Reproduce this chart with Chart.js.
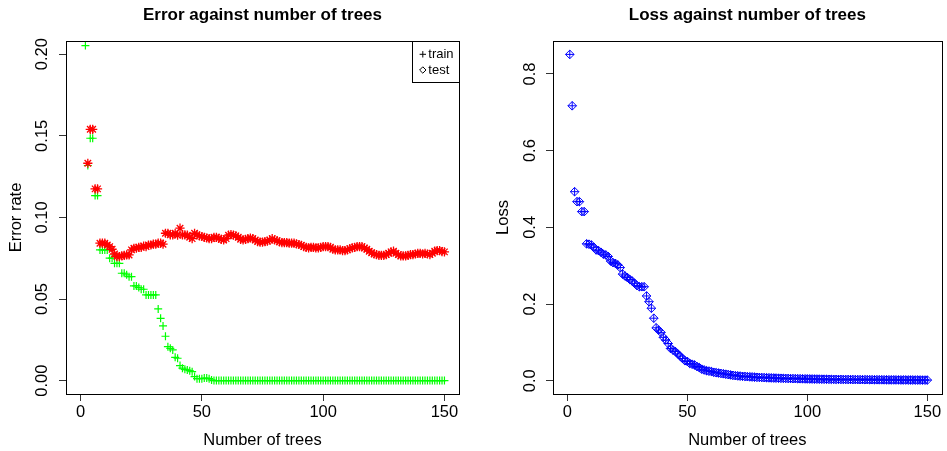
<!DOCTYPE html>
<html>
<head>
<meta charset="utf-8">
<script src="https://cdn.jsdelivr.net/npm/chart.js@4"></script>
<style>
  body { margin: 0; background: #fff; }
  #errorChart { position: absolute; left: 0; top: 0; }
  #lossChart { position: absolute; left: 470px; top: 0; }
</style>
</head>
<body>
<canvas id="errorChart" width="470" height="451"></canvas>
<canvas id="lossChart" width="477" height="451"></canvas>
<script>
// number of trees, 1..150
const trees = Array.from({ length: 150 }, (_, i) => i + 1);

// training error (tree 1 not shown)
const trainError = [
  null, 0.2053, 0.1318, 0.1485, 0.1485, 0.1134, 0.1134, 0.0801, 0.0801, 0.0801,
  0.0801, 0.0750, 0.0750, 0.0719, 0.0719, 0.0719, 0.0658, 0.0658, 0.0648, 0.0637,
  0.0637, 0.0580, 0.0580, 0.0570, 0.0560, 0.0560, 0.0525, 0.0525, 0.0525, 0.0525,
  0.0525, 0.0439, 0.0382, 0.0335, 0.0272, 0.0208, 0.0198, 0.0188, 0.0143, 0.0137,
  0.0092, 0.0076, 0.0069, 0.0065, 0.0061, 0.0055, 0.0025, 0.0012, 0.0012, 0.0012,
  0.0016, 0.0016, 0.0012, 0.0004, 0, 0, 0, 0, 0, 0,
  0, 0, 0, 0, 0, 0, 0, 0, 0, 0,
  0, 0, 0, 0, 0, 0, 0, 0, 0, 0,
  0, 0, 0, 0, 0, 0, 0, 0, 0, 0,
  0, 0, 0, 0, 0, 0, 0, 0, 0, 0,
  0, 0, 0, 0, 0, 0, 0, 0, 0, 0,
  0, 0, 0, 0, 0, 0, 0, 0, 0, 0,
  0, 0, 0, 0, 0, 0, 0, 0, 0, 0,
  0, 0, 0, 0, 0, 0, 0, 0, 0, 0,
  0, 0, 0, 0, 0, 0, 0, 0, 0, 0
];

// test error (trees 1-2 not shown)
const testError = [
  null, null, 0.1332, 0.1540, 0.1540, 0.1175, 0.1175, 0.0842, 0.0842, 0.0842,
  0.0831, 0.0821, 0.0805, 0.0776, 0.0760, 0.0760, 0.0764, 0.0768, 0.0770, 0.0770,
  0.0801, 0.0811, 0.0811, 0.0817, 0.0817, 0.0825, 0.0821, 0.0831, 0.0831, 0.0836,
  0.0836, 0.0842, 0.0842, 0.0836, 0.0903, 0.0903, 0.0893, 0.0893, 0.0903, 0.0891,
  0.0934, 0.0893, 0.0893, 0.0891, 0.0878, 0.0870, 0.0903, 0.0893, 0.0887, 0.0883,
  0.0878, 0.0874, 0.0870, 0.0870, 0.0878, 0.0878, 0.0872, 0.0866, 0.0862, 0.0870,
  0.0891, 0.0895, 0.0891, 0.0887, 0.0878, 0.0866, 0.0862, 0.0866, 0.0870, 0.0874,
  0.0870, 0.0862, 0.0852, 0.0848, 0.0848, 0.0852, 0.0854, 0.0862, 0.0870, 0.0862,
  0.0858, 0.0850, 0.0846, 0.0846, 0.0846, 0.0842, 0.0842, 0.0842, 0.0838, 0.0834,
  0.0829, 0.0821, 0.0817, 0.0813, 0.0817, 0.0817, 0.0813, 0.0813, 0.0817, 0.0821,
  0.0821, 0.0821, 0.0817, 0.0805, 0.0801, 0.0801, 0.0801, 0.0797, 0.0797, 0.0801,
  0.0809, 0.0813, 0.0817, 0.0821, 0.0821, 0.0821, 0.0813, 0.0805, 0.0793, 0.0784,
  0.0776, 0.0772, 0.0768, 0.0768, 0.0768, 0.0772, 0.0780, 0.0789, 0.0793, 0.0780,
  0.0772, 0.0764, 0.0764, 0.0764, 0.0768, 0.0772, 0.0772, 0.0776, 0.0780, 0.0780,
  0.0776, 0.0780, 0.0776, 0.0772, 0.0780, 0.0793, 0.0797, 0.0797, 0.0791, 0.0789
];

// loss
const loss = [
  0.851, 0.717, 0.493, 0.467, 0.467, 0.441, 0.441, 0.357, 0.356, 0.354,
  0.348, 0.341, 0.339, 0.335, 0.330, 0.328, 0.324, 0.312, 0.308, 0.306,
  0.302, 0.295, 0.278, 0.273, 0.269, 0.264, 0.260, 0.254, 0.248, 0.245,
  0.245, 0.245, 0.221, 0.206, 0.189, 0.163, 0.138, 0.132, 0.126, 0.113,
  0.106, 0.097, 0.084, 0.080, 0.076, 0.070, 0.064, 0.058, 0.052, 0.050,
  0.045, 0.043, 0.041, 0.037, 0.034, 0.030, 0.028, 0.026, 0.025, 0.024,
  0.022, 0.021, 0.020, 0.019, 0.018, 0.017, 0.016, 0.015, 0.014, 0.0130,
  0.0125, 0.0120, 0.0115, 0.0110, 0.0105, 0.0101, 0.0097, 0.0093, 0.0089, 0.0086,
  0.0083, 0.0080, 0.0077, 0.0074, 0.0072, 0.0070, 0.0068, 0.0066, 0.0064, 0.0062,
  0.0060, 0.0058, 0.0056, 0.0054, 0.0053, 0.0051, 0.0050, 0.0048, 0.0047, 0.0046,
  0.0045, 0.0044, 0.0043, 0.0042, 0.0041, 0.0040, 0.0039, 0.0038, 0.0037, 0.0036,
  0.0035, 0.0034, 0.0034, 0.0033, 0.0032, 0.0031, 0.0031, 0.0030, 0.0029, 0.0029,
  0.0028, 0.0027, 0.0027, 0.0026, 0.0026, 0.0025, 0.0025, 0.0024, 0.0024, 0.0023,
  0.0023, 0.0022, 0.0022, 0.0021, 0.0021, 0.0021, 0.0020, 0.0020, 0.0019, 0.0019,
  0.0019, 0.0018, 0.0018, 0.0018, 0.0017, 0.0017, 0.0017, 0.0016, 0.0016, 0.0016
];

const xTicks = [0, 50, 100, 150];
const errorTicks = [0, 0.05, 0.10, 0.15, 0.20];
const lossTicks = [0, 0.2, 0.4, 0.6, 0.8];
const legendLabels = ['train', 'test'];

Chart.defaults.font.family = '"Liberation Sans", Arial, Helvetica, sans-serif';
Chart.defaults.color = '#000';

function toPoints(values) {
  return trees.map((t, i) => ({ x: t, y: values[i] })).filter(p => p.y !== null);
}

// R-style box around the plot region
const boxPlugin = {
  id: 'box',
  afterDraw(chart) {
    const { ctx, chartArea: a } = chart;
    ctx.save();
    ctx.strokeStyle = '#000';
    ctx.lineWidth = 1;
    ctx.strokeRect(Math.round(a.left) + 0.5, Math.round(a.top) + 0.5,
      Math.round(a.right - a.left), Math.round(a.bottom - a.top));
    ctx.restore();
  }
};

// top-right legend box of the error plot
const legendPlugin = {
  id: 'rLegend',
  afterDraw(chart) {
    const { ctx, chartArea: a } = chart;
    const w = 47, h = 41, r = 3.2;
    const left = Math.round(a.right) - w, top = Math.round(a.top);
    ctx.save();
    ctx.strokeStyle = '#000';
    ctx.lineWidth = 1;
    ctx.strokeRect(left + 0.5, top + 0.5, w, h);
    const sx = left + 10.8, rows = [top + 13.3, top + 29];
    ctx.beginPath();
    ctx.moveTo(sx - r, rows[0]); ctx.lineTo(sx + r, rows[0]);
    ctx.moveTo(sx, rows[0] - r); ctx.lineTo(sx, rows[0] + r);
    ctx.moveTo(sx - r, rows[1]); ctx.lineTo(sx, rows[1] - r);
    ctx.lineTo(sx + r, rows[1]); ctx.lineTo(sx, rows[1] + r);
    ctx.closePath();
    ctx.stroke();
    ctx.fillStyle = '#000';
    ctx.font = '13px "Liberation Sans", Arial, sans-serif';
    ctx.textBaseline = 'middle';
    ctx.textAlign = 'left';
    legendLabels.forEach((lab, i) => ctx.fillText(lab, left + 16.3, rows[i]));
    ctx.restore();
  }
};

function makeOptions(cfg) {
  return {
    responsive: false,
    animation: false,
    events: [],
    layout: { padding: { left: 0, right: cfg.padRight, top: 0, bottom: 0 } },
    plugins: {
      legend: { display: false },
      tooltip: { enabled: false },
      title: {
        display: true,
        text: cfg.title,
        fullSize: false,
        color: '#000',
        font: { size: 17, weight: 'bold' },
        padding: { top: 5, bottom: 15.6 }
      }
    },
    scales: {
      x: {
        type: 'linear',
        min: -6,
        max: 156,
        afterBuildTicks: s => { s.ticks = xTicks.map(v => ({ value: v })); },
        afterFit: s => { s.height = 57; },
        grid: { drawOnChartArea: false, drawTicks: true, tickLength: 7, color: '#333' },
        border: { display: false },
        ticks: {
          color: '#000', font: { size: 16.5 }, padding: 2,
          maxRotation: 0, autoSkip: false,
          callback: v => String(v)
        },
        title: {
          display: true, text: 'Number of trees', color: '#000',
          font: { size: 16.5 }, padding: { top: 0, bottom: 1 }
        }
      },
      y: {
        type: 'linear',
        min: cfg.yMin,
        max: cfg.yMax,
        afterBuildTicks: s => { s.ticks = cfg.yTicks.map(v => ({ value: v })); },
        afterFit: s => { s.width = cfg.yWidth; },
        grid: { drawOnChartArea: false, drawTicks: true, tickLength: 7, color: '#333' },
        border: { display: false },
        ticks: {
          color: '#000', font: { size: 16.5 }, padding: cfg.tickPad,
          minRotation: 90, maxRotation: 90, crossAlign: 'center', autoSkip: false,
          callback: v => v.toFixed(cfg.digits)
        },
        title: {
          display: true, text: cfg.yTitle, color: '#000',
          font: { size: 16.5 }, padding: { top: cfg.titlePad, bottom: 0 }
        }
      }
    }
  };
}

new Chart(document.getElementById('errorChart'), {
  type: 'scatter',
  data: {
    datasets: [
      {
        label: 'test',
        data: toPoints(testError),
        pointStyle: 'star',
        pointRadius: 4.6,
        borderColor: '#ff0000',
        backgroundColor: 'transparent',
        pointBorderWidth: 1.3,
        order: 0
      },
      {
        label: 'train',
        data: toPoints(trainError),
        pointStyle: 'cross',
        pointRadius: 4,
        borderColor: '#00ff00',
        backgroundColor: 'transparent',
        pointBorderWidth: 1.2,
        order: 1
      }
    ]
  },
  options: makeOptions({
    title: 'Error against number of trees',
    padRight: 11, yWidth: 66, tickPad: 0, titlePad: 7,
    yMin: -0.0082, yMax: 0.2081, yTicks: errorTicks, digits: 2, yTitle: 'Error rate'
  }),
  plugins: [boxPlugin, legendPlugin]
});

new Chart(document.getElementById('lossChart'), {
  type: 'scatter',
  data: {
    datasets: [
      {
        label: 'loss',
        data: toPoints(loss),
        pointStyle: 'rectRot',
        pointRadius: 4.3,
        borderColor: '#0000ff',
        backgroundColor: 'transparent',
        pointBorderWidth: 1
      },
      {
        label: 'loss cross',
        data: toPoints(loss),
        pointStyle: 'cross',
        pointRadius: 4.3,
        borderColor: '#0000ff',
        backgroundColor: 'transparent',
        pointBorderWidth: 1
      }
    ]
  },
  options: makeOptions({
    title: 'Loss against number of trees',
    padRight: 1, yWidth: 83, tickPad: 3.7, titlePad: 24,
    yMin: -0.0347, yMax: 0.886, yTicks: lossTicks, digits: 1, yTitle: 'Loss'
  }),
  plugins: [boxPlugin]
});
</script>
</body>
</html>
